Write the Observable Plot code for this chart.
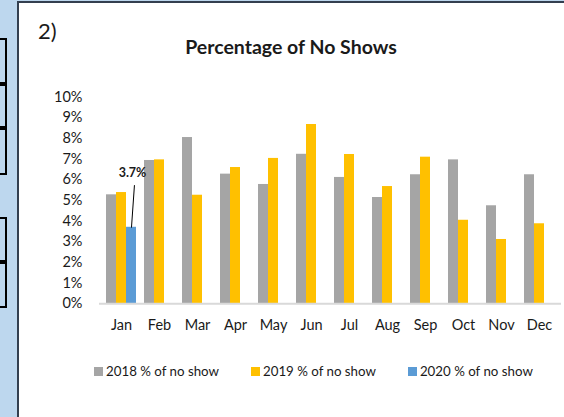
<!DOCTYPE html>
<html>
<head>
<meta charset="utf-8">
<script src="https://cdn.jsdelivr.net/npm/d3@7"></script>
<script src="https://cdn.jsdelivr.net/npm/@observablehq/plot@0.6"></script>
<style>
  html, body { margin: 0; padding: 0; }
  body { width: 564px; height: 417px; background: #bdd7ee; position: relative; overflow: hidden; font-family: Lato, "Open Sans", sans-serif; color: #1a1a1a; }
  .cell { position: absolute; left: -4px; width: 7px; border: 2px solid #000; }
  #panel { position: absolute; left: 17px; top: 1px; right: -4px; bottom: -4px; background: #fff; border-left: 2px solid #333f4f; border-top: 2px solid #333f4f; }
  #num { position: absolute; left: 38px; top: 20px; font-size: 22px; line-height: 1; }
  #title { position: absolute; left: 291px; top: 37px; transform: translateX(-50%); font-size: 19.5px; font-weight: bold; line-height: 1; white-space: nowrap; }
  #legend { position: absolute; left: 94px; top: 365px; display: flex; gap: 32px; font-size: 13.3px; line-height: 1; }
  #legend .item { display: flex; align-items: center; white-space: nowrap; }
  #legend .sw { width: 9px; height: 9px; margin-right: 3px; }
  #chart { position: absolute; left: 0; top: 0; }
</style>
</head>
<body>
<div class="cell" style="top:38px;height:44px"></div>
<div class="cell" style="top:82px;height:44px"></div>
<div class="cell" style="top:126px;height:45px"></div>
<div class="cell" style="top:217px;height:43px"></div>
<div class="cell" style="top:260px;height:44px"></div>
<div id="panel"></div>
<div id="num">2)</div>
<div id="title">Percentage of No Shows</div>
<div id="chart"></div>
<div id="legend"></div>
<script>
const months = ["Jan","Feb","Mar","Apr","May","Jun","Jul","Aug","Sep","Oct","Nov","Dec"];
const series = ["2018 % of no show","2019 % of no show","2020 % of no show"];
const colors = ["#a5a5a5","#ffc000","#5b9bd5"];
const v2018 = [5.27,6.93,8.04,6.27,5.77,7.23,6.11,5.14,6.24,6.96,4.74,6.24];
const v2019 = [5.38,6.96,5.25,6.59,7.03,8.67,7.22,5.67,7.09,4.04,3.11,3.87];
const v2020 = [3.7];
const yTicks = [0,1,2,3,4,5,6,7,8,9,10];
const labelText = ["3.7%"];

const toRows = (vals) => vals.map((v, i) => ({month: months[i], value: v}));
const d2018 = toRows(v2018), d2019 = toRows(v2019), d2020 = toRows(v2020);
const labels = d2020.map((d, i) => ({...d, text: labelText[i]}));

const font = {fontFamily: "Lato, 'Open Sans', sans-serif"};
const chart = Plot.plot({
  width: 564, height: 417,
  marginLeft: 99, marginRight: 3, marginTop: 96.5, marginBottom: 113.7,
  style: {background: "transparent", fontSize: "14.5px", color: "#1a1a1a", ...font},
  x: {domain: months, paddingInner: 0.22, paddingOuter: 0.11, label: null, tickSize: 0, tickPadding: 16},
  y: {domain: [0, 10], ticks: yTicks, tickFormat: d => d + "%", label: null, tickSize: 0, tickPadding: 17},
  marks: [
    Plot.barY(d2018, {x: "month", y: "value", fill: colors[0], insetLeft: 0, insetRight: 20}),
    Plot.barY(d2019, {x: "month", y: "value", fill: colors[1], insetLeft: 10, insetRight: 10}),
    Plot.barY(d2020, {x: "month", y: "value", fill: colors[2], insetLeft: 20, insetRight: 0}),
    Plot.ruleY([0], {stroke: "#d9d9d9", strokeWidth: 2}),
    Plot.vector(d2020, {x: "month", y: "value", length: 42, rotate: 4, anchor: "start", shape: "spike", r: 0, stroke: "#000", strokeWidth: 1, dx: 10}),
    Plot.text(labels, {x: "month", y: "value", text: "text", dx: 11, dy: -54, fontWeight: "bold", fontSize: 12.5, fill: "#1a1a1a"})
  ]
});
document.getElementById("chart").appendChild(chart);

const legend = document.getElementById("legend");
series.forEach((s, i) => {
  const item = document.createElement("div");
  item.className = "item";
  const sw = document.createElement("span");
  sw.className = "sw";
  sw.style.background = colors[i];
  const t = document.createElement("span");
  t.textContent = s;
  item.appendChild(sw); item.appendChild(t);
  legend.appendChild(item);
});
</script>
</body>
</html>
